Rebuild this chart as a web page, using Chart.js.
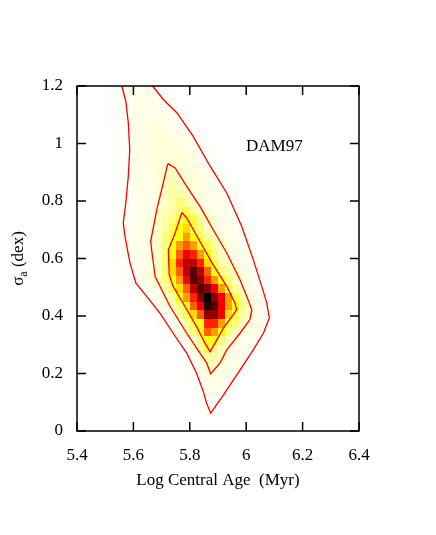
<!DOCTYPE html>
<html>
<head>
<meta charset="utf-8">
<script src="https://cdn.jsdelivr.net/npm/chart.js@4.4.1/dist/chart.umd.min.js"></script>
<style>
html,body{margin:0;padding:0;background:#ffffff;}
canvas{display:block;}
</style>
</head>
<body>
<canvas id="chart" width="436" height="535"></canvas>
<script>
// ---------------- data ----------------
const xTickValues = [5.4, 5.6, 5.8, 6.0, 6.2, 6.4];
const xTickLabels = ["5.4", "5.6", "5.8", "6", "6.2", "6.4"];
const yTickValues = [0, 0.2, 0.4, 0.6, 0.8, 1.0, 1.2];
const yTickLabels = ["0", "0.2", "0.4", "0.6", "0.8", "1", "1.2"];

const xTitle = "Log Central Age  (Myr)";
const yTitleSymbol = "\u03c3";
const yTitleSub = "a";
const yTitleRest = " (dex)";
const modelLabel = "DAM97";
const modelLabelAt = [6.1, 0.99];

// likelihood map bins (cell centres)
const ageBins = [5.4875, 5.5125, 5.5375, 5.5625, 5.5875, 5.6125, 5.6375, 5.6625, 5.6875,
  5.7125, 5.7375, 5.7625, 5.7875, 5.8125, 5.8375, 5.8625, 5.8875, 5.9125, 5.9375,
  5.9625, 5.9875, 6.0125, 6.0375, 6.0625, 6.0875, 6.1125, 6.1375];
const ageBinWidth = 0.025;
const sigmaBins = [1.185, 1.155, 1.125, 1.095, 1.065, 1.035, 1.005, 0.975, 0.945, 0.915,
  0.885, 0.855, 0.825, 0.795, 0.765, 0.735, 0.705, 0.675, 0.645, 0.615,
  0.585, 0.555, 0.525, 0.495, 0.465, 0.435, 0.405, 0.375, 0.345, 0.315,
  0.285, 0.255, 0.225, 0.195, 0.165, 0.135, 0.105, 0.075, 0.045, 0.015];
const sigmaBinWidth = 0.03;

// level code -> relative likelihood
const levelCodes = "0123456789ABCDEFGHIJ";
const levelValues = [0, 0.006, 0.015, 0.03, 0.05, 0.08, 0.12, 0.17, 0.24, 0.31,
  0.38, 0.46, 0.54, 0.62, 0.68, 0.75, 0.82, 0.89, 0.95, 1.0];

// one string per sigma bin (top to bottom), one code per age bin
const likelihoodRows = [
  "011233321100000000000000000",
  "011123332110000000000000000",
  "011123333211000000000000000",
  "011123333322100000000000000",
  "011123344332110000000000000",
  "001123344433211000000000000",
  "001123344443321100000000000",
  "001123344444332110000000000",
  "001123344444432110000000000",
  "001123334454443211000000000",
  "001123334555443321100000000",
  "001123334565544332110000000",
  "001123334566544332110000000",
  "001122334567654333211000000",
  "001122335567865433211000000",
  "001122345678986543321000000",
  "001123345689A87543322100000",
  "001123345789B98654332100000",
  "00112334579BCB9865432110000",
  "00112334579CEDB975433210000",
  "0011233457ADFFDA86543210000",
  "0001123457ACFHFC97654321000",
  "00011234579BEHGDB9754321100",
  "00001123468ACFHGEB865321100",
  "000001123469BDGJGEB86432100",
  "0000001124579CEIHEB97532100",
  "0000000112468ACGGEA86532100",
  "000000001124689DDB875432100",
  "000000000123579CB9754332100",
  "000000000012357997543221000",
  "000000000001246875433210000",
  "000000000001124665432100000",
  "000000000000123554332100000",
  "000000000000112443321000000",
  "000000000000012333210000000",
  "000000000000011332100000000",
  "000000000000001221000000000",
  "000000000000001210000000000",
  "000000000000000100000000000",
  "000000000000000000000000000"
];

// contours
const outerAge = [5.559, 5.573, 5.582, 5.587, 5.582, 5.573, 5.564, 5.570, 5.588, 5.609, 5.647,
  5.694, 5.741, 5.789, 5.824, 5.848, 5.860, 5.874, 5.919, 5.978, 6.025, 6.061, 6.082,
  6.073, 6.059, 6.025, 5.984, 5.931, 5.872, 5.812, 5.754, 5.706, 5.668];
const outerSigma = [1.2, 1.147, 1.072, 0.979, 0.886, 0.793, 0.723, 0.677, 0.584, 0.514, 0.468,
  0.410, 0.340, 0.271, 0.201, 0.137, 0.096, 0.062, 0.125, 0.212, 0.282, 0.340, 0.393,
  0.445, 0.491, 0.596, 0.712, 0.828, 0.921, 1.025, 1.107, 1.153, 1.2];
const middleAge = [5.722, 5.748, 5.789, 5.836, 5.883, 5.931, 5.978, 6.007, 6.020, 6.013, 5.978,
  5.931, 5.907, 5.874, 5.860, 5.836, 5.789, 5.730, 5.677, 5.661, 5.683, 5.706, 5.722];
const middleSigma = [0.930, 0.915, 0.851, 0.781, 0.700, 0.619, 0.526, 0.456, 0.421, 0.387, 0.340,
  0.282, 0.236, 0.199, 0.236, 0.271, 0.340, 0.433, 0.537, 0.659, 0.770, 0.863, 0.930];
const innerAge = [5.772, 5.789, 5.836, 5.883, 5.931, 5.960, 5.966, 5.954, 5.919, 5.889, 5.872,
  5.854, 5.824, 5.783, 5.741, 5.727, 5.724, 5.748, 5.772];
const innerSigma = [0.760, 0.741, 0.659, 0.578, 0.503, 0.445, 0.421, 0.404, 0.358, 0.305, 0.276,
  0.305, 0.363, 0.433, 0.503, 0.543, 0.630, 0.689, 0.760];

// ---------------- drawing ----------------
const FONT = "'Liberation Serif', 'Times New Roman', Times, serif";

function heatColor(v) {
  let r, g, b;
  if (v <= 1 / 3) { r = 255; g = 255; b = 255 * (1 - 3 * v); }
  else if (v <= 2 / 3) { r = 255; g = 255 * (2 - 3 * v); b = 0; }
  else { r = 255 * (3 - 3 * v); g = 0; b = 0; }
  return `rgb(${Math.round(r)},${Math.round(g)},${Math.round(b)})`;
}

function zip(xs, ys) { return xs.map((x, i) => ({ x: x, y: ys[i] })); }

function labelFor(values, labels, v) {
  const i = values.findIndex(t => Math.abs(t - v) < 1e-9);
  return i >= 0 ? labels[i] : "";
}

const heatPlugin = {
  id: "heat",
  beforeDatasetsDraw(chart) {
    const { ctx, chartArea: a, scales: { x, y } } = chart;
    ctx.save();
    ctx.beginPath();
    ctx.rect(a.left, a.top, a.right - a.left, a.bottom - a.top);
    ctx.clip();
    likelihoodRows.forEach((row, r) => {
      const s = sigmaBins[r];
      const y0 = Math.round(y.getPixelForValue(s + sigmaBinWidth / 2));
      const y1 = Math.round(y.getPixelForValue(s - sigmaBinWidth / 2));
      for (let c = 0; c < row.length; c++) {
        const v = levelValues[levelCodes.indexOf(row[c])];
        if (!v) continue;
        const x0 = Math.round(x.getPixelForValue(ageBins[c] - ageBinWidth / 2));
        const x1 = Math.round(x.getPixelForValue(ageBins[c] + ageBinWidth / 2));
        ctx.fillStyle = heatColor(v);
        ctx.fillRect(x0, y0, x1 - x0, y1 - y0);
      }
    });
    ctx.restore();
  }
};

const framePlugin = {
  id: "frame",
  afterDraw(chart) {
    const { ctx, chartArea: a, scales: { x, y } } = chart;
    ctx.save();
    ctx.strokeStyle = "#000";
    ctx.lineWidth = 1.5;
    const tl = 9;
    ctx.beginPath();
    xTickValues.forEach(v => {
      const px = x.getPixelForValue(v);
      ctx.moveTo(px, a.bottom); ctx.lineTo(px, a.bottom - tl);
      ctx.moveTo(px, a.top); ctx.lineTo(px, a.top + tl);
    });
    yTickValues.forEach(v => {
      const py = y.getPixelForValue(v);
      ctx.moveTo(a.left, py); ctx.lineTo(a.left + tl, py);
      ctx.moveTo(a.right, py); ctx.lineTo(a.right - tl, py);
    });
    ctx.stroke();
    ctx.strokeRect(a.left, a.top, a.right - a.left, a.bottom - a.top);

    // model label
    ctx.fillStyle = "#000";
    ctx.font = "17px " + FONT;
    ctx.textAlign = "center";
    ctx.textBaseline = "middle";
    ctx.fillText(modelLabel, x.getPixelForValue(modelLabelAt[0]), y.getPixelForValue(modelLabelAt[1]));

    // y title with subscript
    const bigFont = "17px " + FONT, smallFont = "12px " + FONT;
    ctx.font = bigFont; const w1 = ctx.measureText(yTitleSymbol).width;
    const w3 = ctx.measureText(yTitleRest).width;
    ctx.font = smallFont; const w2 = ctx.measureText(yTitleSub).width;
    const total = w1 + w2 + w3;
    ctx.translate(23, (a.top + a.bottom) / 2);
    ctx.rotate(-Math.PI / 2);
    ctx.textAlign = "left";
    ctx.textBaseline = "alphabetic";
    let cx = -total / 2;
    ctx.font = bigFont; ctx.fillText(yTitleSymbol, cx, 0); cx += w1;
    ctx.font = smallFont; ctx.fillText(yTitleSub, cx, 4); cx += w2;
    ctx.font = bigFont; ctx.fillText(yTitleRest, cx, 0);
    ctx.restore();
  }
};

const contourStyle = { borderColor: "#ff0000", borderWidth: 1.3, showLine: true, pointRadius: 0, tension: 0, fill: false };

new Chart(document.getElementById("chart").getContext("2d"), {
  type: "scatter",
  data: {
    datasets: [
      Object.assign({ label: "outer", data: zip(outerAge, outerSigma) }, contourStyle),
      Object.assign({ label: "middle", data: zip(middleAge, middleSigma) }, contourStyle),
      Object.assign({ label: "inner", data: zip(innerAge, innerSigma) }, contourStyle)
    ]
  },
  options: {
    responsive: false,
    animation: false,
    devicePixelRatio: 1,
    layout: { padding: { top: 86, right: 77, left: 0, bottom: 0 } },
    plugins: { legend: { display: false }, tooltip: { enabled: false } },
    scales: {
      x: {
        type: "linear", min: 5.4, max: 6.4,
        grid: { display: false, drawTicks: false },
        border: { display: false },
        afterBuildTicks: s => { s.ticks = xTickValues.map(v => ({ value: v })); },
        afterFit: s => { s.height = 104; },
        ticks: {
          padding: 14, color: "#000", autoSkip: false, maxRotation: 0,
          font: { family: FONT, size: 17 },
          callback: v => labelFor(xTickValues, xTickLabels, v)
        },
        title: {
          display: true, text: xTitle, color: "#000",
          font: { family: FONT, size: 17 },
          padding: { top: 0, bottom: 44 }
        }
      },
      y: {
        type: "linear", min: 0, max: 1.2,
        grid: { display: false, drawTicks: false },
        border: { display: false },
        afterBuildTicks: s => { s.ticks = yTickValues.map(v => ({ value: v })); },
        afterFit: s => { s.width = 77; },
        ticks: {
          padding: 14, color: "#000", autoSkip: false,
          font: { family: FONT, size: 17 },
          callback: v => labelFor(yTickValues, yTickLabels, v)
        }
      }
    }
  },
  plugins: [heatPlugin, framePlugin]
});
</script>
</body>
</html>
